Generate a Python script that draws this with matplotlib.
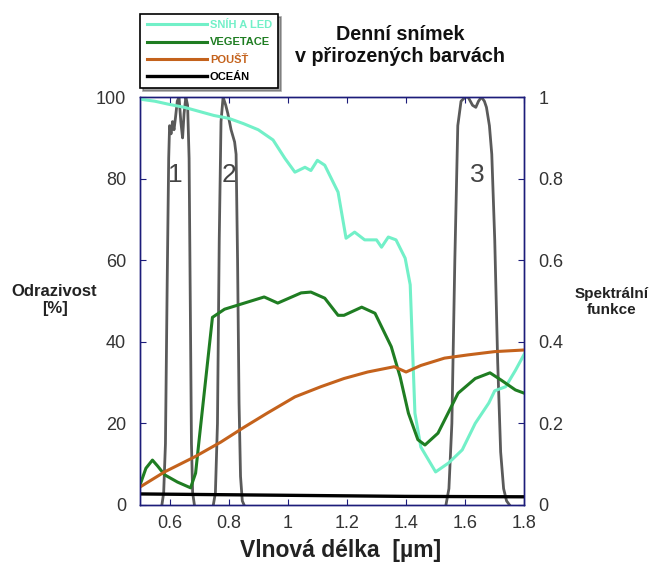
import matplotlib
matplotlib.use('Agg')
from matplotlib import pyplot

# reflectance curves [%]
snow_x = [0.50, 0.55, 0.60, 0.65, 0.70, 0.75, 0.80, 0.85, 0.90, 0.95, 0.99, 1.024,
          1.058, 1.078, 1.10, 1.125, 1.17, 1.197, 1.226, 1.26, 1.30, 1.317, 1.34, 1.366, 1.397,
          1.414, 1.43, 1.45, 1.50, 1.544, 1.59, 1.634, 1.68, 1.70, 1.737, 1.77, 1.80]
snow_y = [99.5, 99.0, 98.2, 97.5, 96.5, 95.5, 94.8, 93.5, 92.0, 89.5, 85.0, 81.6,
          82.8, 82.0, 84.5, 83.3, 76.7, 65.4, 66.9, 65.0, 65.0, 63.2, 65.7, 65.0, 60.5,
          54.0, 22.5, 14.2, 8.1, 10.3, 13.5, 20.0, 25.0, 28.0, 29.0, 33.0, 37.0]

veg_x = [0.50, 0.52, 0.542, 0.56, 0.583, 0.627, 0.671, 0.688, 0.70, 0.718, 0.745, 0.786, 0.853,
         0.92, 0.966, 1.045, 1.078, 1.125, 1.17, 1.19, 1.25, 1.295, 1.35, 1.38, 1.408, 1.44,
         1.464, 1.508, 1.576, 1.634, 1.684, 1.722, 1.77, 1.80]
veg_y = [4.9, 9.0, 11.0, 9.5, 7.4, 5.6, 4.2, 7.8, 16.0, 28.0, 46.0, 48.0, 49.5,
         51.0, 49.5, 52.0, 52.2, 50.7, 46.5, 46.5, 48.5, 47.0, 38.8, 31.4, 22.5, 16.0,
         14.7, 17.6, 27.4, 31.0, 32.4, 30.6, 28.2, 27.4]

desert_x = [0.50, 0.583, 0.685, 0.773, 0.853, 0.93, 1.024, 1.112, 1.19, 1.27, 1.36, 1.40,
            1.45, 1.53, 1.61, 1.70, 1.80]
desert_y = [4.4, 8.1, 11.8, 15.4, 19.1, 22.5, 26.5, 29.0, 31.0, 32.6, 33.9, 32.6,
            34.2, 36.0, 36.8, 37.6, 38.0]

ocean_x = [0.50, 0.80, 1.10, 1.40, 1.80]
ocean_y = [2.7, 2.5, 2.3, 2.1, 2.0]

# spectral response functions of bands 1-3
band1_x = [0.574, 0.580, 0.586, 0.592, 0.597, 0.60, 0.605, 0.61, 0.615, 0.62, 0.626, 0.632,
           0.638, 0.644, 0.649, 0.655, 0.661, 0.666, 0.670, 0.674, 0.678, 0.684]
band1_y = [0.0, 0.03, 0.15, 0.55, 0.85, 0.93, 0.91, 0.94, 0.92, 0.95, 0.99, 1.0,
           0.94, 0.90, 0.96, 1.0, 0.98, 0.85, 0.5, 0.15, 0.03, 0.0]
band2_x = [0.748, 0.755, 0.762, 0.768, 0.774, 0.781, 0.790, 0.797, 0.808, 0.82, 0.825,
           0.830, 0.835, 0.840, 0.846, 0.852]
band2_y = [0.0, 0.03, 0.2, 0.65, 0.94, 1.0, 0.98, 0.96, 0.92, 0.89, 0.86,
           0.6, 0.25, 0.07, 0.01, 0.0]
band3_x = [1.535, 1.545, 1.555, 1.565, 1.575, 1.586, 1.60, 1.61, 1.625, 1.636, 1.645, 1.655,
           1.665, 1.672, 1.682, 1.69, 1.70, 1.71, 1.72, 1.73, 1.74, 1.75]
band3_y = [0.0, 0.04, 0.2, 0.6, 0.93, 0.99, 1.0, 1.0, 0.98, 0.975, 0.99, 1.0,
           0.99, 0.975, 0.93, 0.86, 0.65, 0.35, 0.13, 0.04, 0.01, 0.0]
band_labels = ['1', '2', '3']
band_label_x = [0.62, 0.80, 1.64]

x_ticks = [0.6, 0.8, 1.0, 1.2, 1.4, 1.6, 1.8]
x_tick_labels = ['0.6', '0.8', '1', '1.2', '1.4', '1.6', '1.8']
y_ticks = [0, 20, 40, 60, 80, 100]
y2_ticks = [0, 0.2, 0.4, 0.6, 0.8, 1.0]
y2_tick_labels = ['0', '0.2', '0.4', '0.6', '0.8', '1']

SNOW = '#72f0c8'
VEG = '#1f7d22'
DESERT = '#c4621c'
BAND = '#5a5a5a'
SPINE = '#1c1c7a'
TEXT = '#333333'


def main():
    pyplot.rcParams['font.family'] = ['Liberation Sans', 'DejaVu Sans']

    fig = pyplot.figure(figsize=(6.58, 5.68), dpi=100)
    ax = fig.add_axes([0.2128, 0.111, 0.584, 0.718])
    ax2 = ax.twinx()

    for bx, by in [(band1_x, band1_y), (band2_x, band2_y), (band3_x, band3_y)]:
        ax2.plot(bx, by, '-', color=BAND, lw=2.0, zorder=1)
    for lab, lx in zip(band_labels, band_label_x):
        ax2.text(lx, 0.81, lab, color='#444444', fontsize=19, ha='center', va='center')

    l_snow, = ax.plot(snow_x, snow_y, '-', color=SNOW, lw=2.2, label='SNÍH A LED')
    l_veg, = ax.plot(veg_x, veg_y, '-', color=VEG, lw=2.2, label='VEGETACE')
    l_des, = ax.plot(desert_x, desert_y, '-', color=DESERT, lw=2.2, label='POUŠŤ')
    l_oce, = ax.plot(ocean_x, ocean_y, '-', color='black', lw=2.4, label='OCEÁN')
    ax.set_zorder(ax2.get_zorder() + 1)
    ax.patch.set_visible(False)

    ax.set_xlim(0.5, 1.8)
    ax.set_ylim(0, 100)
    ax2.set_ylim(0, 1)
    ax.set_xticks(x_ticks)
    ax.set_xticklabels(x_tick_labels)
    ax.set_yticks(y_ticks)
    ax2.set_yticks(y2_ticks)
    ax2.set_yticklabels(y2_tick_labels)

    ax.tick_params(direction='in', length=4, color=SPINE, labelsize=13,
                   labelcolor=TEXT, top=True, pad=7)
    ax.tick_params(axis='y', pad=10)
    ax2.tick_params(direction='in', length=4, color=SPINE, labelsize=13,
                    labelcolor=TEXT, pad=10)
    for a in (ax, ax2):
        for s in a.spines.values():
            s.set_color(SPINE)
            s.set_linewidth(1.0)

    leg = fig.legend(handles=[l_snow, l_veg, l_des, l_oce], loc='upper left',
                     bbox_to_anchor=(0.205, 0.985), handlelength=5.4,
                     labelspacing=0.65, handletextpad=0.3, borderpad=0.55,
                     fancybox=False, shadow=True, edgecolor='black',
                     labelcolor='linecolor', prop={'weight': 'bold', 'size': 8})
    leg.get_frame().set_linewidth(1.2)

    fig.text(0.608, 0.92, 'Denní snímek\nv přirozených barvách', ha='center', va='center',
             fontsize=14.2, fontweight='bold', color='#111111', linespacing=1.25)
    fig.text(0.517, 0.03, 'Vlnová délka  [µm]', ha='center', va='center',
             fontsize=16.5, fontweight='bold', color='#222222')
    fig.text(0.083, 0.472, 'Odrazivost\n[%]', ha='center', va='center',
             fontsize=12, fontweight='bold', color='#222222')
    fig.text(0.93, 0.468, 'Spektrální\nfunkce', ha='center', va='center',
             fontsize=11, fontweight='bold', color='#222222')

    fig.savefig('out.png', dpi=100)


if __name__ == '__main__':
    main()
